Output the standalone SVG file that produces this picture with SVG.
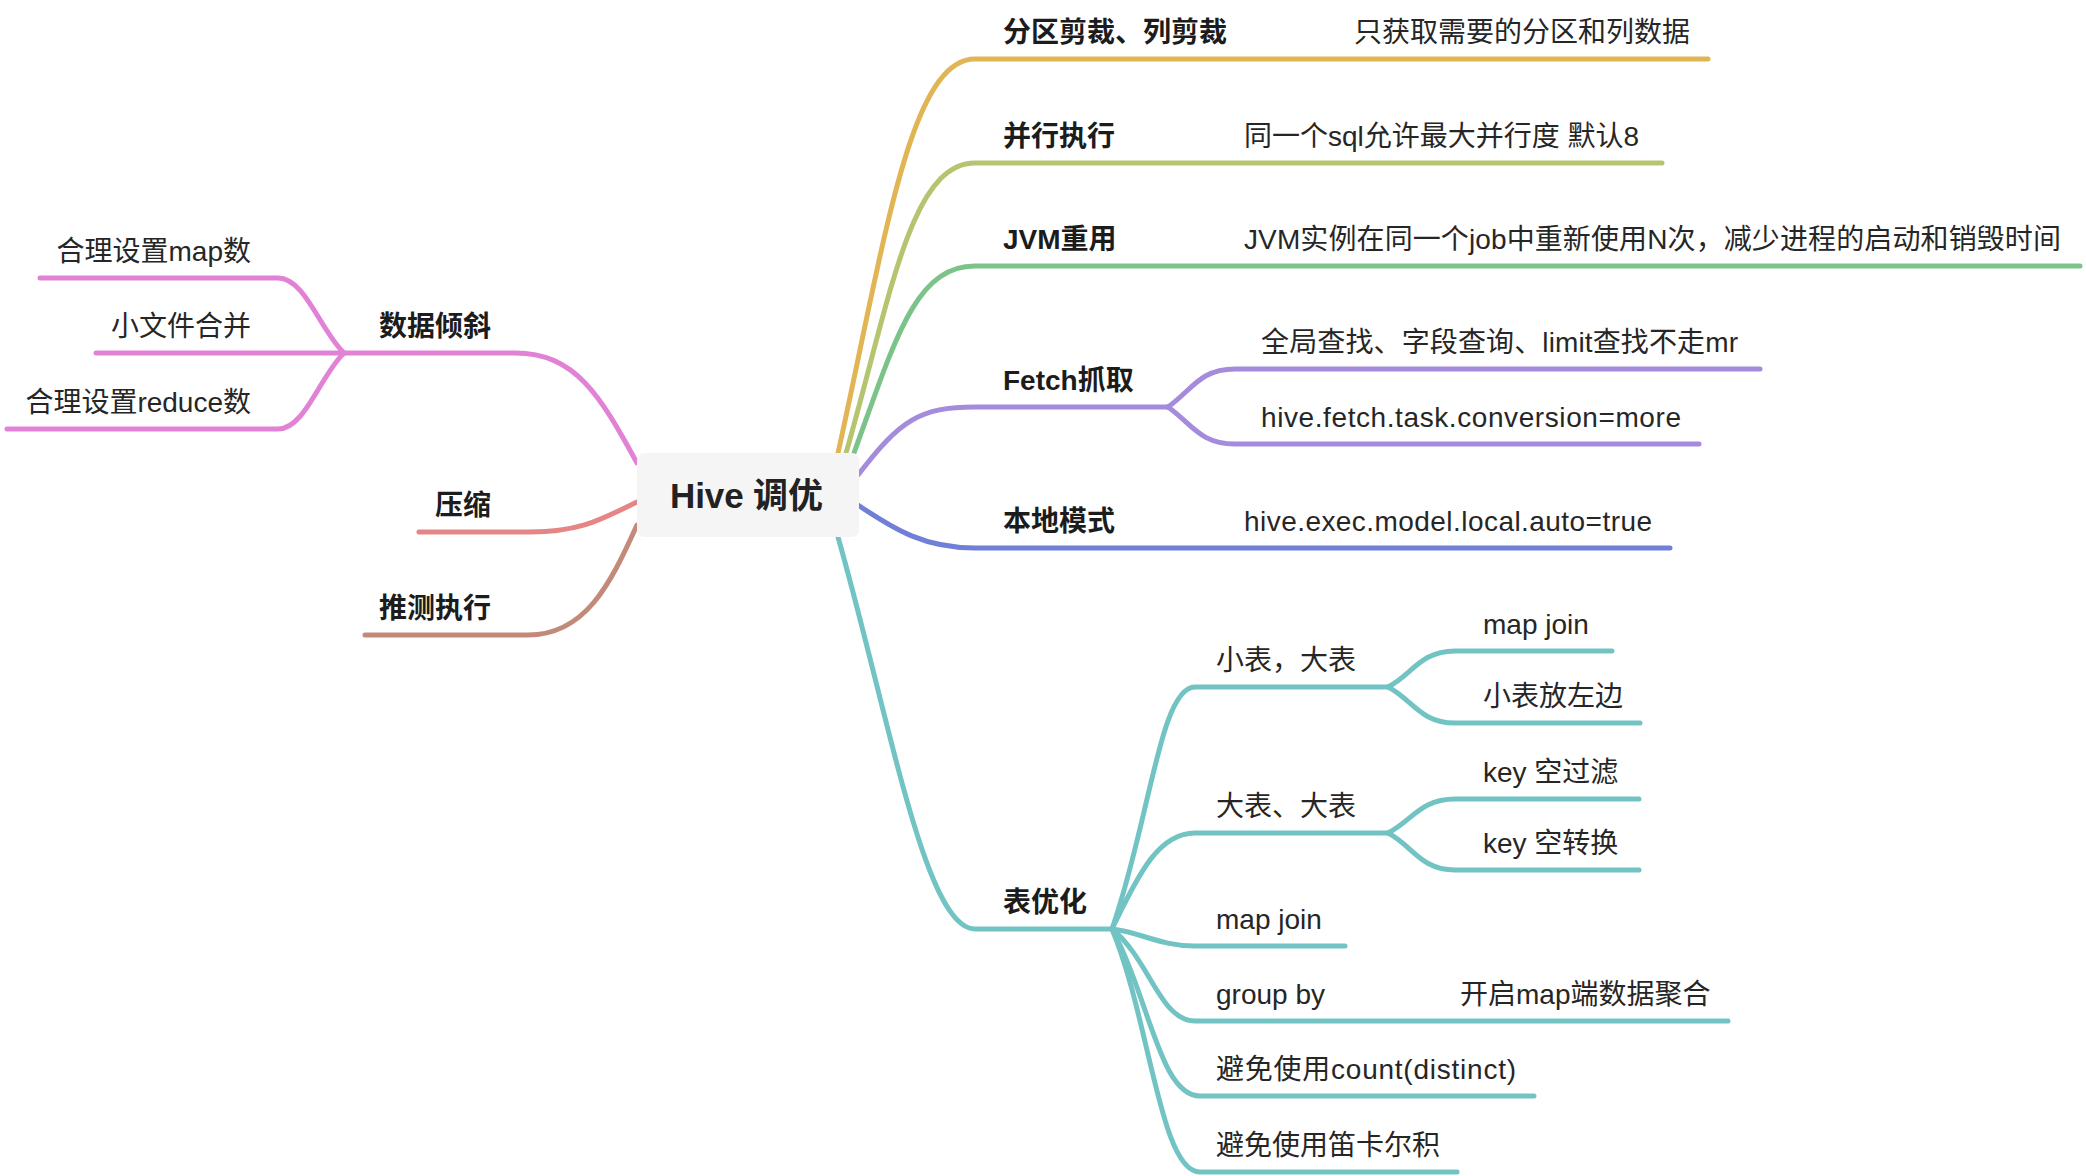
<svg xmlns="http://www.w3.org/2000/svg" width="2086" height="1176" viewBox="0 0 2086 1176">
<style>
.t{font-family:"Liberation Sans","Noto Sans CJK SC",sans-serif;font-size:28px;fill:#262626}
.b{font-weight:bold;fill:#1c1c1c}
.e{text-anchor:end}
.c{font-size:35px;font-weight:bold;fill:#222}
path{fill:none;stroke-width:5;stroke-linecap:round;stroke-linejoin:round}
.y{stroke:#e2b554}.yg{stroke:#b5c56f}.g{stroke:#7bc389}.p{stroke:#a48bdc}.bl{stroke:#6f80d6}.tl{stroke:#72c3c3}.pk{stroke:#e282d6}.r{stroke:#e58585}.br{stroke:#c38a79}
</style>
<rect width="2086" height="1176" fill="#ffffff"/>
<g id="connectors">
<path class="y" d="M838 453 C885 240 910 59 975 59 L1708 59"/>
<path class="yg" d="M846 453 C890 300 910 163 975 163 L1662 163"/>
<path class="g" d="M854 453 C895 340 915 266 975 266 L2080 266"/>
<path class="p" d="M858 475 C900 420 920 407 975 407 L1168 407"/>
<path class="p" d="M1168 407 C1192 390 1200 369 1235 369 L1760 369"/>
<path class="p" d="M1168 407 C1192 424 1200 444 1235 444 L1699 444"/>
<path class="bl" d="M858 505 C895 530 925 548 975 548 L1670 548"/>
<path class="tl" d="M838 537 C890 720 925 929 975 929 L1112 929"/>
<path class="tl" d="M1112 929 C1150 820 1160 687 1195 687 L1388 687"/>
<path class="tl" d="M1388 687 C1412 675 1420 651 1455 651 L1612 651"/>
<path class="tl" d="M1388 687 C1412 699 1420 723 1455 723 L1640 723"/>
<path class="tl" d="M1112 929 C1140 870 1160 833 1195 833 L1388 833"/>
<path class="tl" d="M1388 833 C1412 821 1420 799 1455 799 L1639 799"/>
<path class="tl" d="M1388 833 C1412 845 1420 870 1455 870 L1639 870"/>
<path class="tl" d="M1112 929 C1140 932 1160 946 1195 946 L1345 946"/>
<path class="tl" d="M1112 929 C1150 960 1160 1021 1195 1021 L1728 1021"/>
<path class="tl" d="M1112 929 C1150 1000 1160 1096 1200 1096 L1534 1096"/>
<path class="tl" d="M1112 929 C1150 1020 1160 1172 1200 1172 L1457 1172"/>
<path class="pk" d="M637 463 C600 395 575 353 515 353 L344 353"/>
<path class="pk" d="M344 353 C320 330 305 278 278 278 L40 278"/>
<path class="pk" d="M344 353 L96 353"/>
<path class="pk" d="M344 353 C320 376 305 429 278 429 L7 429"/>
<path class="r" d="M637 502 C600 520 580 532 530 532 L419 532"/>
<path class="br" d="M637 525 C610 585 585 635 528 635 L365 635"/>
</g>
<g id="root"><rect x="637" y="453" width="222" height="84" rx="7" fill="#f5f5f5"/><text class="t c" x="670" y="508" textLength="153" lengthAdjust="spacing">Hive 调优</text></g>
<g id="n-partition"><text class="t b" x="1003" y="42">分区剪裁、列剪裁</text></g>
<g id="n-partition-d"><text class="t" x="1354" y="42">只获取需要的分区和列数据</text></g>
<g id="n-parallel"><text class="t b" x="1003" y="146">并行执行</text></g>
<g id="n-parallel-d"><text class="t" x="1244" y="146">同一个sql允许最大并行度 默认8</text></g>
<g id="n-jvm"><text class="t b" x="1003" y="249">JVM重用</text></g>
<g id="n-jvm-d"><text class="t" x="1244" y="249" textLength="817" lengthAdjust="spacing">JVM实例在同一个job中重新使用N次，减少进程的启动和销毁时间</text></g>
<g id="n-fetch"><text class="t b" x="1003" y="390">Fetch抓取</text></g>
<g id="n-fetch-1"><text class="t" x="1261" y="352" textLength="477" lengthAdjust="spacing">全局查找、字段查询、limit查找不走mr</text></g>
<g id="n-fetch-2"><text class="t" x="1261" y="427" textLength="420" lengthAdjust="spacing">hive.fetch.task.conversion=more</text></g>
<g id="n-local"><text class="t b" x="1003" y="531">本地模式</text></g>
<g id="n-local-d"><text class="t" x="1244" y="531" textLength="408" lengthAdjust="spacing">hive.exec.model.local.auto=true</text></g>
<g id="n-table"><text class="t b" x="1003" y="912">表优化</text></g>
<g id="n-small-big"><text class="t" x="1216" y="670">小表，大表</text></g>
<g id="n-mapjoin1"><text class="t" x="1483" y="634">map join</text></g>
<g id="n-smallleft"><text class="t" x="1483" y="706">小表放左边</text></g>
<g id="n-big-big"><text class="t" x="1216" y="816">大表、大表</text></g>
<g id="n-keyfilter"><text class="t" x="1483" y="782">key 空过滤</text></g>
<g id="n-keyconv"><text class="t" x="1483" y="853">key 空转换</text></g>
<g id="n-mapjoin2"><text class="t" x="1216" y="929">map join</text></g>
<g id="n-groupby"><text class="t" x="1216" y="1004">group by</text></g>
<g id="n-groupby-d"><text class="t" x="1460" y="1004">开启map端数据聚合</text></g>
<g id="n-count"><text class="t" x="1216" y="1079" textLength="300" lengthAdjust="spacing">避免使用count(distinct)</text></g>
<g id="n-cartesian"><text class="t" x="1216" y="1155">避免使用笛卡尔积</text></g>
<g id="n-skew"><text class="t b e" x="491" y="336">数据倾斜</text></g>
<g id="n-mapnum"><text class="t e" x="251" y="261">合理设置map数</text></g>
<g id="n-smallfile"><text class="t e" x="251" y="336">小文件合并</text></g>
<g id="n-reducenum"><text class="t e" x="251" y="412">合理设置reduce数</text></g>
<g id="n-compress"><text class="t b e" x="491" y="515">压缩</text></g>
<g id="n-spec"><text class="t b e" x="491" y="618">推测执行</text></g>
</svg>
